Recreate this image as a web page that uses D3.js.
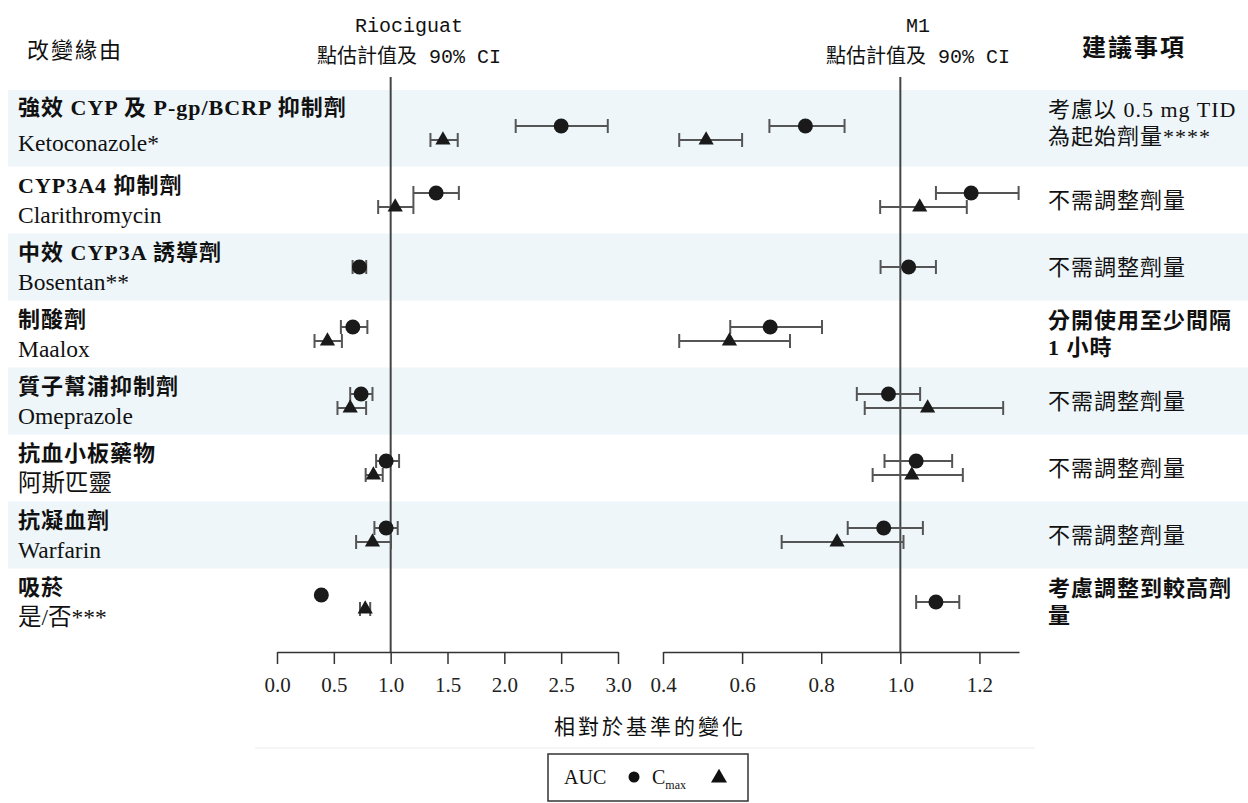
<!DOCTYPE html>
<meta charset="utf-8">
<style>

body {
  margin: 0;
  background: #fff;
}

svg {
  display: block;
  font-family: "Liberation Serif", "Noto Sans CJK TC", serif;
  fill: #111;
}

.hdr {
  font-family: "Liberation Mono", "Noto Sans CJK TC", monospace;
  font-size: 20px;
}

.lbl {
  font-size: 22px;
}

.drug {
  font-size: 23.5px;
}

.bold {
  font-weight: bold;
}

.axis text {
  font-family: "Liberation Serif", serif;
  font-size: 21px;
  fill: #222;
}

.axis path, .axis line {
  stroke: #333;
  stroke-width: 1.5;
}

</style>
<svg width="1248" height="803"></svg>

<script src="https://d3js.org/d3.v7.min.js"></script>
<script>

var groups = ["強效 CYP 及 P-gp/BCRP 抑制劑", "CYP3A4 抑制劑", "中效 CYP3A 誘導劑", "制酸劑",
              "質子幫浦抑制劑", "抗血小板藥物", "抗凝血劑", "吸菸"];
var drugs = ["Ketoconazole*", "Clarithromycin", "Bosentan**", "Maalox",
             "Omeprazole", "阿斯匹靈", "Warfarin", "是/否***"];
var recs = [["考慮以 0.5 mg TID", "為起始劑量****"], ["不需調整劑量"], ["不需調整劑量"],
            ["分開使用至少間隔", "1 小時"], ["不需調整劑量"], ["不需調整劑量"], ["不需調整劑量"],
            ["考慮調整到較高劑", "量"]];
var recBold = [false, false, false, true, false, false, false, true];

// [point estimate, lower 90% CI, upper 90% CI]
var rioAUC = [[2.50, 2.10, 2.91], [1.40, 1.20, 1.60], [0.725, 0.665, 0.785], [0.667, 0.562, 0.795],
              [0.74, 0.644, 0.84], [0.96, 0.872, 1.074], [0.96, 0.857, 1.062], [0.39, 0.37, 0.41]];
var rioCmax = [[1.46, 1.35, 1.59], [1.04, 0.89, 1.20], null, [0.444, 0.33, 0.571],
               [0.644, 0.532, 0.784], [0.848, 0.78, 0.93], [0.84, 0.696, 1.003], [0.776, 0.73, 0.82]];
var m1AUC = [[0.76, 0.669, 0.859], [1.179, 1.09, 1.299], [1.021, 0.95, 1.09], [0.671, 0.57, 0.802],
             [0.97, 0.89, 1.05], [1.04, 0.96, 1.131], [0.958, 0.867, 1.057], [1.09, 1.04, 1.149]];
var m1Cmax = [[0.509, 0.441, 0.60], [1.049, 0.949, 1.168], null, [0.568, 0.441, 0.721],
              [1.069, 0.91, 1.26], [1.029, 0.93, 1.158], [0.84, 0.70, 1.008], null];

var rioTicks = [0, 0.5, 1, 1.5, 2, 2.5, 3];
var m1Ticks = [0.4, 0.6, 0.8, 1.0, 1.2];

var svg = d3.select("svg"),
    axisY = 652,
    refTop = 77;

var y = d3.scaleBand()
    .domain(groups)
    .range([99.5, 635.5]);

var panels = [
  {name: "Riociguat", auc: rioAUC, cmax: rioCmax, ticks: rioTicks,
   x: d3.scaleLinear().domain([0, 3]).range([277, 618]), hx: 409},
  {name: "M1", auc: m1AUC, cmax: m1Cmax, ticks: m1Ticks,
   x: d3.scaleLinear().domain([0.4, 1.3]).range([663, 1019]), hx: 918}
];

// stripes
svg.selectAll(".band")
  .data(groups.filter(function(d, i) { return i % 2 === 0; }))
  .enter().append("rect")
    .attr("x", 8)
    .attr("width", 1240)
    .attr("y", function(d, i) { return i === 0 ? 90 : y(d); })
    .attr("height", function(d, i) { return i === 0 ? y(d) + y.bandwidth() - 90 : y.bandwidth(); })
    .attr("fill", "#eef6fa");

// headers
svg.append("text").attr("class", "lbl")
    .attr("x", 27).attr("y", 50).attr("dominant-baseline", "central")
    .attr("letter-spacing", 2).text("改變緣由");
svg.append("text").attr("class", "lbl bold")
    .attr("x", 1082).attr("y", 48).attr("dominant-baseline", "central")
    .style("font-size", "24px").attr("letter-spacing", 2).text("建議事項");

panels.forEach(function(p) {
  svg.append("text").attr("class", "hdr")
      .attr("x", p.hx).attr("y", 26).attr("text-anchor", "middle").attr("dominant-baseline", "central")
      .text(p.name);
  svg.append("text").attr("class", "hdr")
      .attr("x", p.hx).attr("y", 57).attr("text-anchor", "middle").attr("dominant-baseline", "central")
      .text("點估計值及 90% CI");
});

// row labels
groups.forEach(function(g, i) {
  var c = y(g) + y.bandwidth() / 2;
  svg.append("text").attr("class", "lbl bold")
      .attr("x", 18).attr("y", c - (i === 0 ? 26 : 15)).attr("dominant-baseline", "central")
      .attr("letter-spacing", 1)
      .text(g);
  svg.append("text").attr("class", "drug")
      .attr("x", 18).attr("y", c + (i === 0 ? 10 : 15)).attr("dominant-baseline", "central")
      .text(drugs[i]);

  var lines = recs[i];
  lines.forEach(function(t, j) {
    svg.append("text").attr("class", recBold[i] ? "lbl bold" : "lbl")
        .attr("x", 1048)
        .attr("y", c + (j - (lines.length - 1) / 2) * 27 - (i === 0 ? 10 : 0))
        .attr("dominant-baseline", "central")
        .attr("letter-spacing", 1)
        .text(t);
  });
});

var tri = d3.symbol().type(d3.symbolTriangle).size(100);

panels.forEach(function(p) {
  var x = p.x;

  // reference line at 1.0
  svg.append("line")
      .attr("x1", x(1)).attr("x2", x(1))
      .attr("y1", refTop).attr("y2", axisY)
      .attr("stroke", "#444").attr("stroke-width", 2);

  var ax = svg.append("g")
      .attr("class", "axis")
      .attr("transform", "translate(0," + axisY + ")")
      .call(d3.axisBottom(x)
          .tickValues(p.ticks)
          .tickFormat(d3.format(".1f"))
          .tickSize(12)
          .tickSizeOuter(0)
          .tickPadding(13));
  ax.attr("font-family", null).attr("font-size", null);

  function drawCI(v, yy) {
    var g = svg.append("g").attr("stroke", "#555").attr("stroke-width", 2);
    g.append("line").attr("x1", x(v[1])).attr("x2", x(v[2])).attr("y1", yy).attr("y2", yy);
    [v[1], v[2]].forEach(function(e) {
      g.append("line").attr("x1", x(e)).attr("x2", x(e)).attr("y1", yy - 7).attr("y2", yy + 7);
    });
  }

  groups.forEach(function(g, i) {
    var c = y(g) + y.bandwidth() / 2,
        a = p.auc[i],
        m = p.cmax[i];
    if (a) {
      var ya = m ? c - 7 : c;
      drawCI(a, ya);
      svg.append("circle").attr("cx", x(a[0])).attr("cy", ya).attr("r", 7.5).attr("fill", "#1a1a1a");
    }
    if (m) {
      drawCI(m, c + 7);
      svg.append("path").attr("d", tri)
          .attr("transform", "translate(" + x(m[0]) + "," + (c + 7) + ")")
          .attr("fill", "#1a1a1a");
    }
  });
});

// axis title
svg.append("line")
    .attr("x1", 255).attr("x2", 1035).attr("y1", 748).attr("y2", 748)
    .attr("stroke", "#ececec");
svg.append("text").attr("class", "lbl")
    .attr("x", 650).attr("y", 727).attr("text-anchor", "middle").attr("dominant-baseline", "central")
    .style("font-size", "21px").attr("letter-spacing", 3)
    .text("相對於基準的變化");

// legend
var lg = svg.append("g");
lg.append("rect")
    .attr("x", 548).attr("y", 754).attr("width", 200).attr("height", 47)
    .attr("fill", "#fff").attr("stroke", "#333").attr("stroke-width", 1.5);
lg.append("text").attr("x", 564).attr("y", 784).style("font-size", "20px").text("AUC");
lg.append("circle").attr("cx", 634).attr("cy", 777).attr("r", 5.5).attr("fill", "#111");
var ct = lg.append("text").attr("x", 652).attr("y", 784).style("font-size", "20px");
ct.append("tspan").text("C");
ct.append("tspan").attr("dy", 5).style("font-size", "12px").text("max");
lg.append("path").attr("d", d3.symbol().type(d3.symbolTriangle).size(110))
    .attr("transform", "translate(719,778)").attr("fill", "#111");

</script>
